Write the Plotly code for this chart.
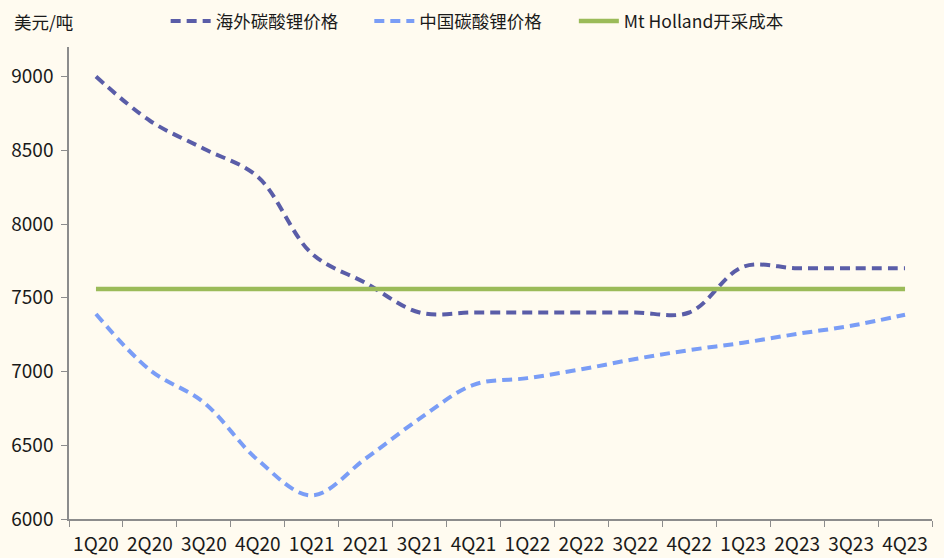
import plotly.graph_objects as go

quarters = ["1Q20", "2Q20", "3Q20", "4Q20", "1Q21", "2Q21", "3Q21", "4Q21",
            "1Q22", "2Q22", "3Q22", "4Q22", "1Q23", "2Q23", "3Q23", "4Q23"]

overseas_price = [9000, 8700, 8510, 8320, 7800, 7600, 7400, 7400,
                  7400, 7400, 7400, 7400, 7710, 7700, 7700, 7700]

china_price = [7390, 7010, 6790, 6400, 6160, 6410, 6680, 6910,
               6955, 7015, 7085, 7145, 7195, 7255, 7310, 7385]

mt_holland_cost = [7560] * len(quarters)

FONT = "Noto Sans CJK SC, Microsoft YaHei, sans-serif"
BG = "#FFFBF0"
TEXT = "#1a1a1a"


def legend_box(x):
    # one legend box per series so each item sits at its own spot
    return dict(
        orientation="h", x=x, y=1.055, xanchor="left", yanchor="middle",
        bgcolor="rgba(0,0,0,0)", font=dict(size=17.5, color=TEXT),
        itemwidth=40,
    )


fig = go.Figure()

fig.add_trace(go.Scatter(
    x=quarters, y=overseas_price, name="海外碳酸锂价格", mode="lines",
    line=dict(color="#5A5DA8", width=4, dash="10px,6px", shape="spline", smoothing=1.0),
    legend="legend",
))
fig.add_trace(go.Scatter(
    x=quarters, y=china_price, name="中国碳酸锂价格", mode="lines",
    line=dict(color="#7A9DF6", width=4, dash="10px,6px", shape="spline", smoothing=1.0),
    legend="legend2",
))
fig.add_trace(go.Scatter(
    x=quarters, y=mt_holland_cost, name="Mt Holland开采成本", mode="lines",
    line=dict(color="#9BBB59", width=4.5),
    legend="legend3",
))

fig.update_layout(
    width=944, height=558,
    margin=dict(l=69, r=12, t=47, b=39, autoexpand=False),
    paper_bgcolor=BG, plot_bgcolor=BG,
    font=dict(family=FONT, size=17.5, color=TEXT),
    showlegend=True,
    legend=legend_box(0.112),
    legend2=legend_box(0.348),
    legend3=legend_box(0.585),
    annotations=[dict(
        text="美元/吨", xref="paper", yref="paper", x=-0.066, y=1.055,
        xanchor="left", yanchor="middle", showarrow=False, font=dict(size=17.5),
    )],
)

fig.update_xaxes(
    type="category", range=[-0.5, 15.5],
    showline=True, linecolor="#8C8C8C", linewidth=1.5,
    ticks="outside", tickson="boundaries", ticklen=6, tickcolor="#8C8C8C",
    showgrid=False, zeroline=False, tickangle=0,
    tickfont=dict(size=19), ticklabelstandoff=7,
)
fig.update_yaxes(
    range=[6000, 9200], tickmode="array",
    tickvals=[6000, 6500, 7000, 7500, 8000, 8500, 9000],
    ticktext=["6000", "6500", "7000", "7500", "8000", "8500", "9000"],
    showline=True, linecolor="#8C8C8C", linewidth=1.5,
    ticks="outside", ticklen=6, tickcolor="#8C8C8C",
    showgrid=False, zeroline=False,
    tickfont=dict(size=19), ticklabelstandoff=4,
)

fig.write_html("out.html")
